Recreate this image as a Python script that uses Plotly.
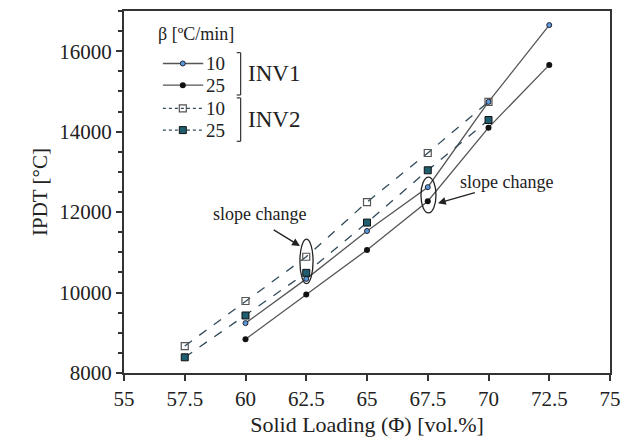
import plotly.graph_objects as go

# ---- data ----
phi_inv1 = [60, 62.5, 65, 67.5, 70, 72.5]
inv1_b10 = [9240, 10340, 11530, 12620, 14740, 16650]
inv1_b25 = [8840, 9950, 11060, 12270, 14100, 15660]

phi_inv2 = [57.5, 60, 62.5, 65, 67.5, 70]
inv2_b10 = [8670, 9790, 10890, 12250, 13470, 14740]
inv2_b25 = [8390, 9430, 10490, 11740, 13040, 14290]

x_ticks = [55, 57.5, 60, 62.5, 65, 67.5, 70, 72.5, 75]
x_tick_text = ["55", "57.5", "60", "62.5", "65", "67.5", "70", "72.5", "75"]
y_ticks = [8000, 10000, 12000, 14000, 16000]
y_tick_text = ["8000", "10000", "12000", "14000", "16000"]

FONT = "Times New Roman, Liberation Serif, Tinos, DejaVu Serif, serif"
LINE1 = "#555555"
LINE2 = "#2f4a58"

fig = go.Figure()

styles = [
    (phi_inv1, inv1_b10, dict(color=LINE1, width=1.3), dict(symbol="circle", size=5, color="#5a9ad8", line=dict(color="#223", width=1))),
    (phi_inv1, inv1_b25, dict(color=LINE1, width=1.3), dict(symbol="circle", size=6, color="#111111", line=dict(color="#111", width=0))),
    (phi_inv2, inv2_b10, dict(color=LINE2, width=1.3, dash="dash"), dict(symbol="square-open", size=7, color="#555555", line=dict(width=1.2))),
    (phi_inv2, inv2_b25, dict(color=LINE2, width=1.3, dash="dash"), dict(symbol="square", size=7, color="#1f5e6e", line=dict(color="#111", width=1))),
]
for xs, ys, ln, mk in styles:
    fig.add_trace(go.Scatter(x=xs, y=ys, mode="lines+markers", line=ln, marker=mk, showlegend=False))

# ---- custom legend (overlay axes in 0..1 space) ----
rows_y = [0.855, 0.795, 0.731, 0.671]
row_labels = ["10", "25", "10", "25"]
for (xs, ys, ln, mk), ry, lab in zip(styles, rows_y, row_labels):
    ln2 = dict(ln)
    if "dash" in ln2:
        ln2["dash"] = "dot"
    fig.add_trace(go.Scatter(x=[0.080, 0.121, 0.163], y=[ry, ry, ry], mode="lines", line=ln2,
                             xaxis="x2", yaxis="y2", showlegend=False, hoverinfo="skip"))
    fig.add_trace(go.Scatter(x=[0.121], y=[ry], mode="markers", marker=mk,
                             xaxis="x2", yaxis="y2", showlegend=False, hoverinfo="skip"))
    fig.add_annotation(xref="paper", yref="paper", x=0.165, y=ry, text=lab, showarrow=False,
                       xanchor="left", yanchor="middle", font=dict(family=FONT, size=19, color="#222"))

fig.add_annotation(xref="paper", yref="paper", x=0.066, y=0.937, text="β [ºC/min]", showarrow=False,
                   xanchor="left", yanchor="middle", font=dict(family=FONT, size=18, color="#222"))

for top, bot, label, ly in [(0.885, 0.768, "INV1", 0.827), (0.760, 0.640, "INV2", 0.700)]:
    fig.add_shape(type="line", xref="paper", yref="paper", x0=0.240, x1=0.240, y0=bot, y1=top,
                  line=dict(color="#333", width=1.2))
    fig.add_shape(type="line", xref="paper", yref="paper", x0=0.232, x1=0.240, y0=top, y1=top,
                  line=dict(color="#333", width=1.2))
    fig.add_shape(type="line", xref="paper", yref="paper", x0=0.232, x1=0.240, y0=bot, y1=bot,
                  line=dict(color="#333", width=1.2))
    fig.add_annotation(xref="paper", yref="paper", x=0.250, y=ly, text=label, showarrow=False,
                       xanchor="left", yanchor="middle", font=dict(family=FONT, size=23, color="#222"))

# ---- slope change annotations ----
fig.add_shape(type="circle", xref="x", yref="y", x0=62.24, x1=62.78, y0=10220, y1=11330,
              line=dict(color="#222", width=1.3))
fig.add_shape(type="circle", xref="x", yref="y", x0=67.22, x1=67.84, y0=11980, y1=12870,
              line=dict(color="#222", width=1.3))

fig.add_annotation(x=60.56, y=11950, text="slope change", showarrow=False,
                   font=dict(family=FONT, size=18, color="#222"))
fig.add_annotation(x=62.24, y=11160, ax=61.1, ay=11580, axref="x", ayref="y", text="",
                   showarrow=True, arrowhead=2, arrowsize=1.2, arrowwidth=1.3, arrowcolor="#222")
fig.add_annotation(x=70.76, y=12760, text="slope change", showarrow=False,
                   font=dict(family=FONT, size=18, color="#222"))
fig.add_annotation(x=67.92, y=12222, ax=69.5, ay=12494, axref="x", ayref="y", text="",
                   showarrow=True, arrowhead=2, arrowsize=1.2, arrowwidth=1.3, arrowcolor="#222")

fig.update_layout(
    width=634, height=448,
    margin=dict(l=124, r=24, t=9, b=75),
    paper_bgcolor="white", plot_bgcolor="white",
    font=dict(family=FONT, size=21, color="#222"),
    xaxis=dict(range=[55, 75], tickvals=x_ticks, ticktext=x_tick_text, showgrid=False, zeroline=False,
               showline=True, linecolor="#333", linewidth=2, mirror=True,
               ticks="outside", ticklen=6, tickwidth=1.5, tickcolor="#333",
               tickfont=dict(family=FONT, size=21),
               title=dict(text="Solid Loading (Φ) [vol.%]", font=dict(family=FONT, size=22), standoff=6)),
    yaxis=dict(range=[8000, 17000], tickvals=y_ticks, ticktext=y_tick_text, showgrid=False, zeroline=False,
               showline=True, linecolor="#333", linewidth=2, mirror=True,
               ticks="outside", ticklen=6, tickwidth=1.5, tickcolor="#333",
               tickfont=dict(family=FONT, size=21),
               minor=dict(dtick=500, ticks="outside", ticklen=4, tickcolor="#333", showgrid=False),
               title=dict(text="IPDT [°C]", font=dict(family=FONT, size=21), standoff=6)),
    xaxis2=dict(range=[0, 1], overlaying="x", visible=False, fixedrange=True),
    yaxis2=dict(range=[0, 1], overlaying="y", visible=False, fixedrange=True),
)

fig.write_html("out.html")
